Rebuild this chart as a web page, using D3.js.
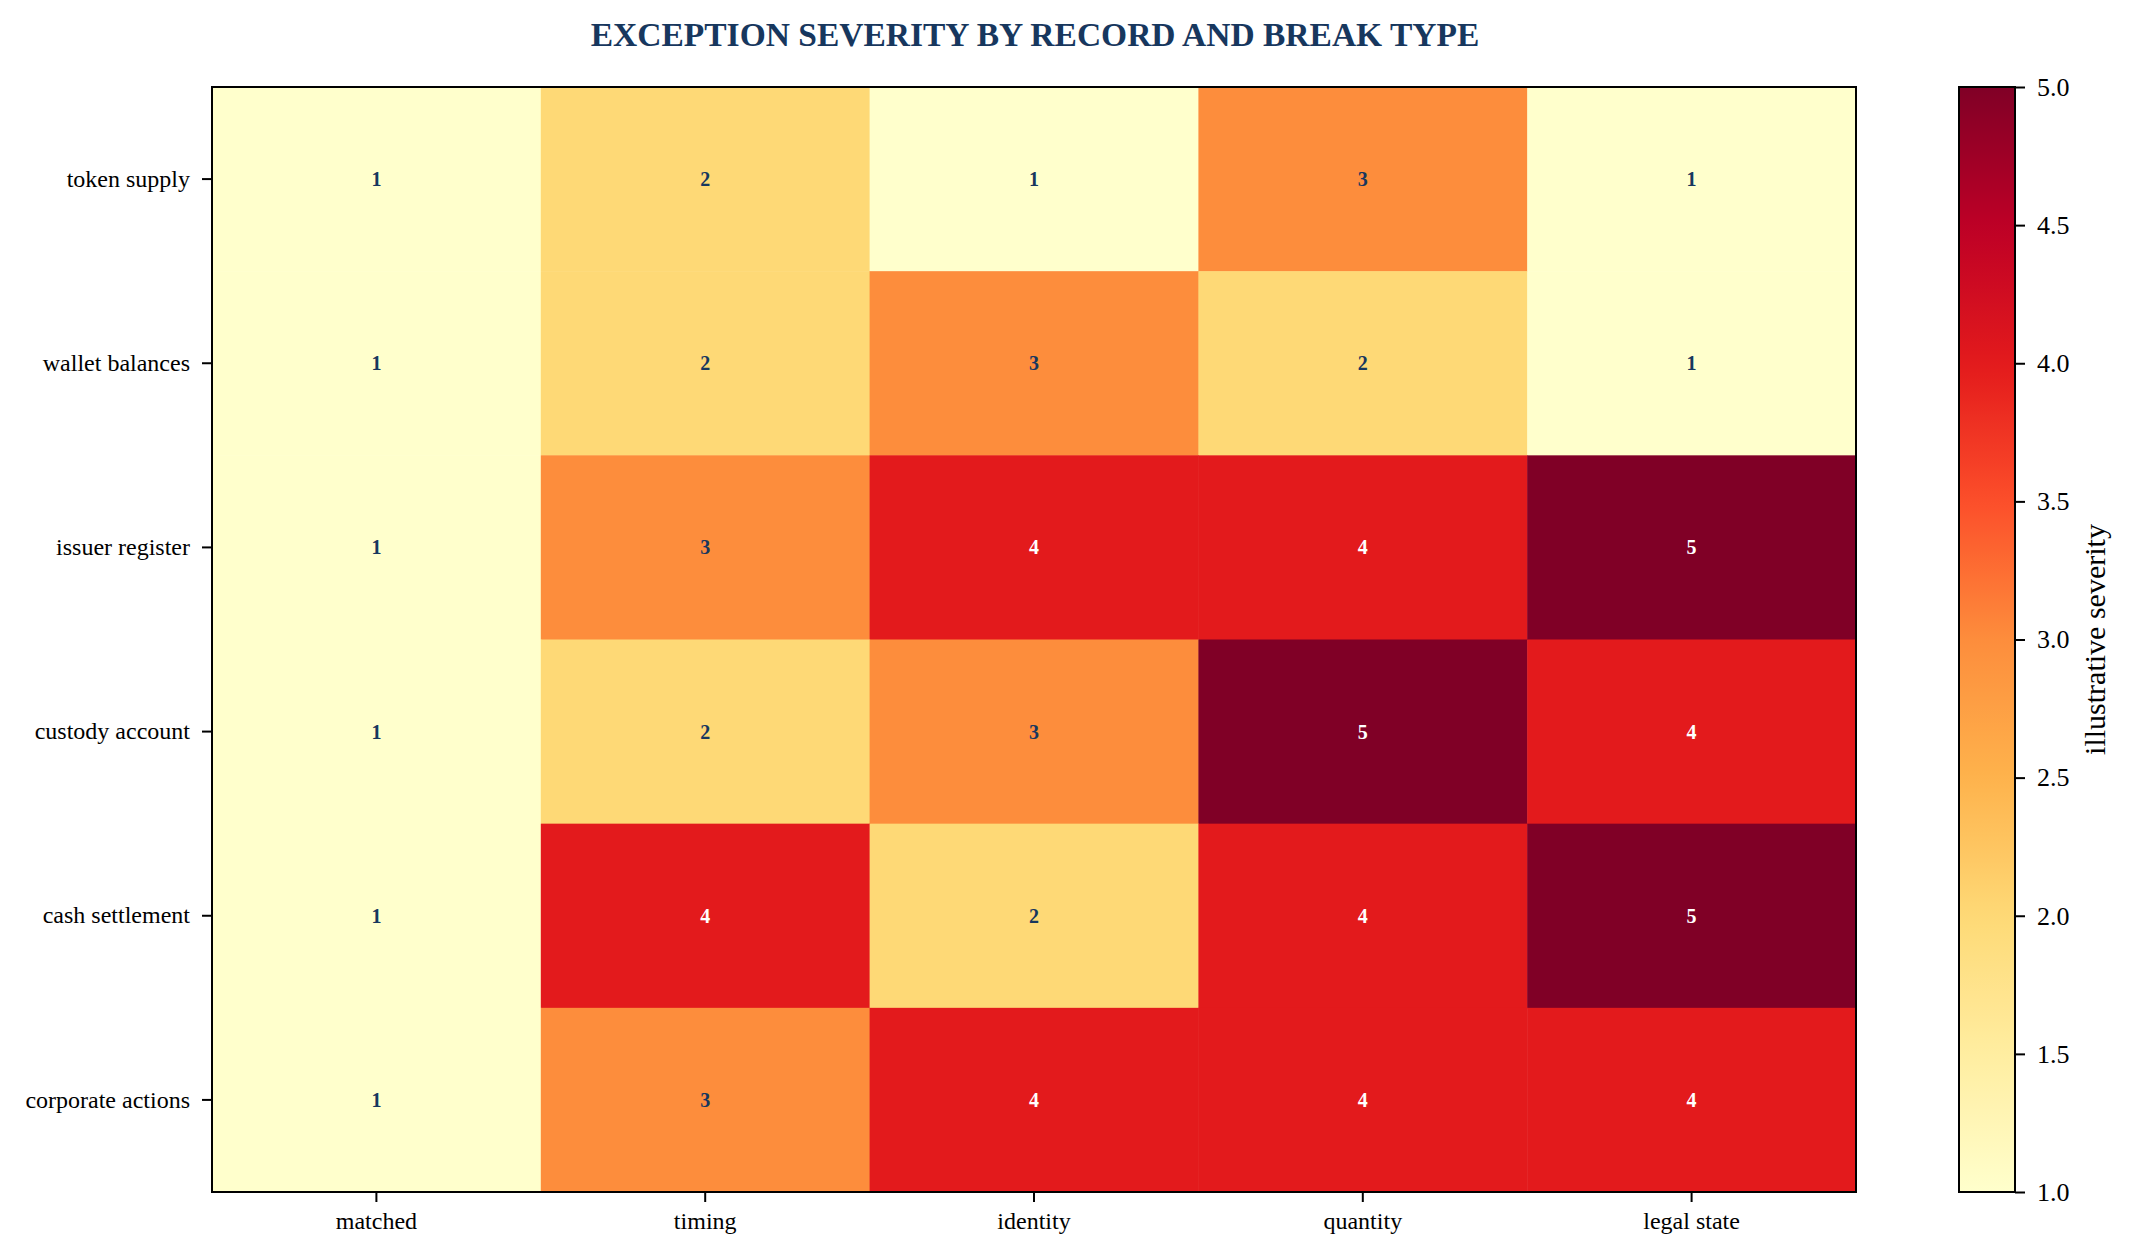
<!DOCTYPE html>
<html>
<head>
<meta charset="utf-8">
<script src="https://cdn.jsdelivr.net/npm/d3@7"></script>
<style>
  html, body { margin: 0; padding: 0; background: #fff; }
  svg text { font-family: "Liberation Serif", "Times New Roman", serif; }
</style>
</head>
<body>
<div id="chart"></div>
<script>
// Exception severity heatmap (records x break types)

const records = ["token supply", "wallet balances", "issuer register", "custody account", "cash settlement", "corporate actions"];
const breakTypes = ["matched", "timing", "identity", "quantity", "legal state"];

// one row per record, in breakTypes order
const severity = [
    [1, 2, 1, 3, 1],
    [1, 2, 3, 2, 1],
    [1, 3, 4, 4, 5],
    [1, 2, 3, 5, 4],
    [1, 4, 2, 4, 5],
    [1, 3, 4, 4, 4]
];

const colorTicks = [1.0, 1.5, 2.0, 2.5, 3.0, 3.5, 4.0, 4.5, 5.0];

const titleText = "EXCEPTION SEVERITY BY RECORD AND BREAK TYPE";
const colorbarLabel = "illustrative severity";

const width = 2132, height = 1254;
const plot = { left: 212, right: 1856, top: 87, bottom: 1192 };
const cbar = { left: 1959, right: 2015 };

const svg = d3.select("#chart").append("svg")
    .attr("width", width)
    .attr("height", height);

// matplotlib-style YlOrRd: linear through the 9 brewer colours
const color = d3.scaleLinear()
    .domain(d3.range(9).map(i => 1 + i * 0.5))
    .range(d3.schemeYlOrRd[9])
    .interpolate(d3.interpolateRgb);

const x = d3.scaleBand().domain(breakTypes).range([plot.left, plot.right]);
const y = d3.scaleBand().domain(records).range([plot.top, plot.bottom]);

const cells = [];
records.forEach((r, i) => breakTypes.forEach((b, j) => cells.push({ r, b, v: severity[i][j] })));

svg.append("g")
    .selectAll("rect")
    .data(cells)
    .join("rect")
    .attr("x", d => x(d.b))
    .attr("y", d => y(d.r))
    .attr("width", x.bandwidth() + 0.5)
    .attr("height", y.bandwidth() + 0.5)
    .attr("fill", d => color(d.v));

svg.append("g")
    .selectAll("text")
    .data(cells)
    .join("text")
    .attr("x", d => x(d.b) + x.bandwidth() / 2)
    .attr("y", d => y(d.r) + y.bandwidth() / 2)
    .attr("text-anchor", "middle")
    .attr("dominant-baseline", "central")
    .attr("font-size", 20)
    .attr("font-weight", "bold")
    .attr("fill", d => d.v >= 4 ? "#ffffff" : "#17375e")
    .text(d => d.v);

// axes
const xAxis = svg.append("g")
    .attr("transform", `translate(0,${plot.bottom})`)
    .call(d3.axisBottom(x).tickSize(10).tickPadding(10));
const yAxis = svg.append("g")
    .attr("transform", `translate(${plot.left},0)`)
    .call(d3.axisLeft(y).tickSize(10).tickPadding(12));

[xAxis, yAxis].forEach(g => {
    g.select(".domain").remove();
    g.selectAll(".tick line").attr("stroke", "#000").attr("stroke-width", 2);
    g.selectAll(".tick text").attr("font-size", 24).attr("fill", "#000")
        .style("font-family", '"Liberation Serif", serif');
});

svg.append("rect")
    .attr("x", plot.left).attr("y", plot.top)
    .attr("width", plot.right - plot.left).attr("height", plot.bottom - plot.top)
    .attr("fill", "none").attr("stroke", "#000").attr("stroke-width", 2);

// colorbar
const cy = d3.scaleLinear().domain([1, 5]).range([plot.bottom, plot.top]);

const defs = svg.append("defs");
const grad = defs.append("linearGradient")
    .attr("id", "cbar-grad")
    .attr("x1", 0).attr("y1", 1).attr("x2", 0).attr("y2", 0);
grad.selectAll("stop")
    .data(d3.range(0, 1.0001, 0.02))
    .join("stop")
    .attr("offset", d => d)
    .attr("stop-color", d => color(1 + d * 4));

svg.append("rect")
    .attr("x", cbar.left).attr("y", plot.top)
    .attr("width", cbar.right - cbar.left).attr("height", plot.bottom - plot.top)
    .attr("fill", "url(#cbar-grad)")
    .attr("stroke", "#000").attr("stroke-width", 2);

const cAxis = svg.append("g")
    .attr("transform", `translate(${cbar.right},0)`)
    .call(d3.axisRight(cy).tickValues(colorTicks).tickFormat(d3.format(".1f")).tickSize(10).tickPadding(12));
cAxis.select(".domain").remove();
cAxis.selectAll(".tick line").attr("stroke", "#000").attr("stroke-width", 2);
cAxis.selectAll(".tick text").attr("font-size", 26).attr("fill", "#000")
    .style("font-family", '"Liberation Serif", serif');

svg.append("text")
    .attr("transform", `translate(2105,${(plot.top + plot.bottom) / 2}) rotate(-90)`)
    .attr("text-anchor", "middle")
    .attr("font-size", 30)
    .attr("fill", "#000")
    .text(colorbarLabel);

// title
svg.append("text")
    .attr("x", 1035)
    .attr("y", 46)
    .attr("text-anchor", "middle")
    .attr("font-size", 33.5)
    .attr("font-weight", "bold")
    .attr("fill", "#17375e")
    .text(titleText);
</script>
</body>
</html>
